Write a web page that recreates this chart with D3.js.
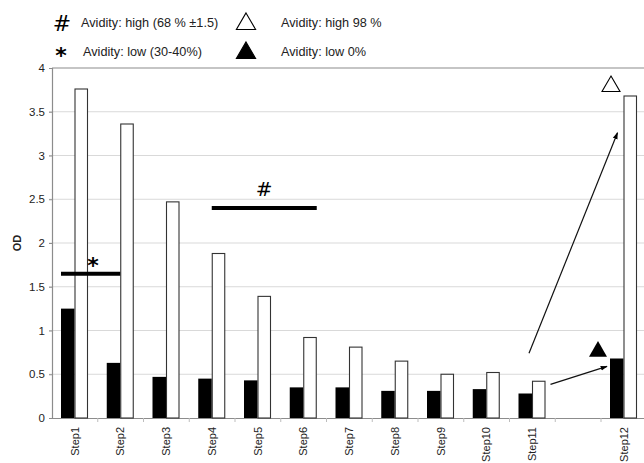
<!DOCTYPE html>
<html>
<head>
<meta charset="utf-8">
<script src="https://cdn.jsdelivr.net/npm/d3@7"></script>
<style>
  html, body { margin: 0; padding: 0; background: #fff; }
  svg { display: block; font-family: "Liberation Sans", Arial, sans-serif; }
</style>
</head>
<body>
<svg id="chart" width="644" height="463"></svg>
<script>
// Optical density per step: low-avidity (black) and high-avidity (white) series
const categories = ["Step1","Step2","Step3","Step4","Step5","Step6","Step7","Step8","Step9","Step10","Step11","","Step12"];
const lowValues  = [1.25, 0.63, 0.47, 0.45, 0.43, 0.35, 0.35, 0.31, 0.31, 0.33, 0.28, null, 0.68];
const highValues = [3.76, 3.36, 2.47, 1.88, 1.39, 0.92, 0.81, 0.65, 0.50, 0.52, 0.42, null, 3.68];
const yTicks = [0, 0.5, 1, 1.5, 2, 2.5, 3, 3.5, 4];
const yTickLabels = ["0", "0.5", "1", "1.5", "2", "2.5", "3", "3.5", "4"];

const legendItems = [
  { symbol: "#", label: "Avidity: high (68 % \u00b11.5)" },
  { symbol: "*", label: "Avidity: low (30-40%)" },
  { symbol: "open", label: "Avidity: high 98 %" },
  { symbol: "filled", label: "Avidity: low 0%" }
];

const svg = d3.select("#chart");
const plotLeft = 52, plotTop = 68, plotBottom = 418;
const bandW = 45.75;

const x = d3.scaleBand().domain(categories).range([plotLeft, plotLeft + bandW * categories.length]).padding(0);
const y = d3.scaleLinear().domain([0, 4]).range([plotBottom, plotTop]);
const inner = d3.scaleBand().domain(["low", "high"]).range([9, 9 + 27]).padding(0);

const rows = categories.map((c, i) => ({ cat: c, low: lowValues[i], high: highValues[i] }));

// gridlines
svg.append("g")
  .selectAll("line")
  .data(yTicks.filter(d => d > 0 && d < 4))
  .join("line")
  .attr("x1", plotLeft - 3).attr("x2", 644)
  .attr("y1", d => y(d)).attr("y2", d => y(d))
  .attr("stroke", "#d9d9d9").attr("stroke-width", 1.2);

// plot frame top
svg.append("line")
  .attr("x1", plotLeft).attr("x2", 644)
  .attr("y1", y(4)).attr("y2", y(4))
  .attr("stroke", "#8c8c8c").attr("stroke-width", 1.2);

// y axis
const yAxis = d3.axisLeft(y).tickValues(yTicks).tickFormat((d, i) => yTickLabels[i]).tickSize(3).tickPadding(4);
const gy = svg.append("g").attr("transform", `translate(${plotLeft},0)`).call(yAxis);
gy.select(".domain").attr("stroke", "#8c8c8c").attr("stroke-width", 1.2);
gy.selectAll(".tick line").attr("stroke", "#8c8c8c");
gy.selectAll(".tick text").attr("font-size", 11.5).attr("fill", "#222")
  .attr("font-family", "Liberation Sans, Arial, sans-serif");

// x axis
const xAxis = d3.axisBottom(x).tickSize(0).tickPadding(0);
const gx = svg.append("g").attr("transform", `translate(0,${plotBottom})`).call(xAxis);
gx.select(".domain").attr("stroke", "#8c8c8c").attr("stroke-width", 1.2);
gx.selectAll(".tick text")
  .attr("font-size", 11).attr("fill", "#222")
  .attr("font-family", "Liberation Sans, Arial, sans-serif")
  .attr("text-anchor", "end")
  .attr("transform", "rotate(-90)")
  .attr("x", -9).attr("y", 0).attr("dy", "0.35em");
// band boundary ticks
gx.append("g").selectAll("line")
  .data(categories.slice(1))
  .join("line")
  .attr("x1", d => x(d)).attr("x2", d => x(d))
  .attr("y1", 0).attr("y2", 4)
  .attr("stroke", "#bdbdbd");

// bars
const groups = svg.append("g").selectAll("g")
  .data(rows.filter(r => r.low !== null))
  .join("g")
  .attr("transform", d => `translate(${x(d.cat)},0)`);

groups.append("rect")
  .attr("x", inner("low")).attr("width", inner.bandwidth())
  .attr("y", d => y(d.low)).attr("height", d => y(0) - y(d.low))
  .attr("fill", "#000");

groups.append("rect")
  .attr("x", inner("high") + 0.5).attr("width", inner.bandwidth() - 1)
  .attr("y", d => y(d.high)).attr("height", d => y(0) - y(d.high))
  .attr("fill", "#fff").attr("stroke", "#333").attr("stroke-width", 1.1);

// bracket annotations
const brackets = [
  { sym: "*", value: 1.65, from: ["Step1", "low", 0], to: ["Step2", "low", 1], symDy: -1, size: 22 },
  { sym: "#", value: 2.4, from: ["Step4", "high", 0], to: ["Step6", "high", 1], symDy: -12, size: 20 }
];
const pos = (p) => x(p[0]) + inner(p[1]) + p[2] * inner.bandwidth();

brackets.forEach(b => {
  const x1 = pos(b.from), x2 = pos(b.to);
  svg.append("line")
    .attr("x1", x1).attr("x2", x2)
    .attr("y1", y(b.value)).attr("y2", y(b.value))
    .attr("stroke", "#000").attr("stroke-width", 4);
  const cx = b.sym === "*" ? x1 + 32 : (x1 + x2) / 2;
  svg.append("text")
    .attr("x", cx).attr("y", y(b.value) + b.symDy)
    .attr("text-anchor", "middle")
    .attr("font-size", b.size)
    .attr("font-weight", b.sym === "*" ? "bold" : "normal")
    .attr("font-family", "DejaVu Sans, sans-serif")
    .text(b.sym);
});

// arrows
const defs = svg.append("defs");
defs.append("marker")
  .attr("id", "arrowhead")
  .attr("viewBox", "0 0 10 10").attr("refX", 9).attr("refY", 5)
  .attr("markerWidth", 7).attr("markerHeight", 7)
  .attr("markerUnits", "userSpaceOnUse")
  .attr("orient", "auto")
  .append("path").attr("d", "M0,1.5 L10,5 L0,8.5 Z").attr("fill", "#000");

const arrows = [
  { from: ["Step11", "high", 0, 0.74], to: ["Step12", "high", 0, 3.26], dx1: -3, dx2: -6 },
  { from: ["Step11", "high", 1, 0.385], to: ["Step12", "low", 0, 0.59], dx1: 5, dx2: -3 }
];
arrows.forEach(a => {
  svg.append("line")
    .attr("x1", pos(a.from) + a.dx1).attr("y1", y(a.from[3]))
    .attr("x2", pos(a.to) + a.dx2).attr("y2", y(a.to[3]))
    .attr("stroke", "#111").attr("stroke-width", 1.2)
    .attr("marker-end", "url(#arrowhead)");
});

// triangle markers above Step12
const tri = d3.symbol().type(d3.symbolTriangle).size(140);
svg.append("path")
  .attr("d", tri)
  .attr("transform", `translate(${x("Step12") + 10},${y(3.79)})`)
  .attr("fill", "#fff").attr("stroke", "#000").attr("stroke-width", 1.1);
svg.append("path")
  .attr("d", tri)
  .attr("transform", `translate(${x("Step12") - 3},${y(0.76)})`)
  .attr("fill", "#000");

// y axis title
svg.append("text")
  .attr("transform", `translate(21,${y(2)}) rotate(-90)`)
  .attr("text-anchor", "middle")
  .attr("font-size", 11).attr("font-weight", "bold")
  .attr("fill", "#222")
  .text("OD");

// legend
const legendPos = [
  { sx: 62, tx: 81, ty: 27 },
  { sx: 61, tx: 83, ty: 56 },
  { sx: 246, tx: 281, ty: 27 },
  { sx: 246, tx: 281, ty: 56 }
];
legendItems.forEach((d, i) => {
  const p = legendPos[i];
  if (d.symbol === "#") {
    svg.append("text").attr("x", p.sx).attr("y", p.ty + 4).attr("text-anchor", "middle")
      .attr("font-size", 22).attr("font-family", "DejaVu Sans, sans-serif").text("#");
  } else if (d.symbol === "*") {
    svg.append("text").attr("x", p.sx).attr("y", p.ty + 7).attr("text-anchor", "middle")
      .attr("font-size", 22).attr("font-weight", "bold").attr("font-family", "DejaVu Sans, sans-serif").text("*");
  } else {
    svg.append("path")
      .attr("d", d3.symbol().type(d3.symbolTriangle).size(160))
      .attr("transform", `translate(${p.sx},${p.ty - 3})`)
      .attr("fill", d.symbol === "filled" ? "#000" : "#fff")
      .attr("stroke", "#000").attr("stroke-width", 1.1);
  }
  svg.append("text")
    .attr("x", p.tx).attr("y", p.ty)
    .attr("font-size", 12.7).attr("fill", "#222")
    .text(d.label);
});
</script>
</body>
</html>
